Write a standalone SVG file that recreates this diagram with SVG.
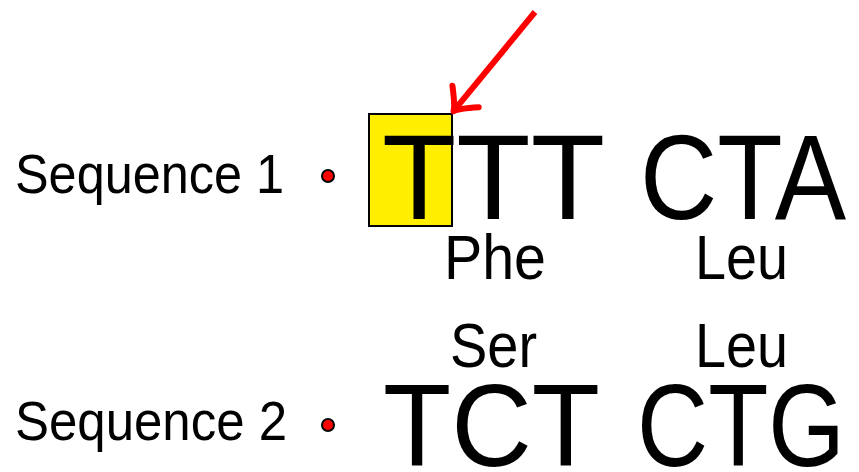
<svg xmlns="http://www.w3.org/2000/svg" width="859" height="472" viewBox="0 0 859 472">
  <style>
    text { font-family: "Liberation Sans", "DejaVu Sans", sans-serif; fill: #000; }
    .label { font-size: 55px; }
    .codon1 { font-size: 120px; }
    .codon2 { font-size: 117px; }
    .amino { font-size: 63px; }
    .dot { fill: #ff0000; stroke: #000; stroke-width: 2; }
  </style>
  <defs>
    <!-- curved "to"-style arrowhead, 1 unit = 1px -->
    <marker id="head" viewBox="-30 -30 60 60" refX="0" refY="0" markerWidth="60" markerHeight="60" orient="auto" markerUnits="userSpaceOnUse">
      <path d="M-19,-17 Q-5,-2 0,0 Q-5,2 -19,17" fill="none" stroke="#ff0000" stroke-width="6" stroke-linecap="round" stroke-linejoin="round"/>
    </marker>
  </defs>

  <!-- highlighted first base -->
  <g id="highlight">
    <rect x="369" y="114" width="83" height="112" fill="#ffee00" stroke="#000" stroke-width="2"/>
  </g>

  <g id="seq1">
    <text class="label" x="15" y="193" textLength="269" lengthAdjust="spacingAndGlyphs">Sequence 1</text>
    <circle class="dot" cx="328" cy="176" r="6"/>
    <text class="codon1" x="382" y="219" textLength="223" lengthAdjust="spacingAndGlyphs">TTT</text>
    <text class="codon1" x="640" y="219" textLength="206" lengthAdjust="spacingAndGlyphs">CTA</text>
    <text class="amino" x="444" y="279" textLength="102" lengthAdjust="spacingAndGlyphs">Phe</text>
    <text class="amino" x="695" y="279" textLength="93" lengthAdjust="spacingAndGlyphs">Leu</text>
  </g>

  <g id="seq2">
    <text class="amino" x="450" y="367" textLength="87" lengthAdjust="spacingAndGlyphs">Ser</text>
    <text class="amino" x="695" y="367" textLength="93" lengthAdjust="spacingAndGlyphs">Leu</text>
    <text class="label" x="15" y="440" textLength="272" lengthAdjust="spacingAndGlyphs">Sequence 2</text>
    <circle class="dot" cx="328" cy="425" r="6"/>
    <text class="codon2" x="383" y="466" textLength="217" lengthAdjust="spacingAndGlyphs">TCT</text>
    <text class="codon2" x="637" y="466" textLength="208" lengthAdjust="spacingAndGlyphs">CTG</text>
  </g>

  <g id="connectors">
    <path d="M535,12 L453.5,111.2" fill="none" stroke="#ff0000" stroke-width="6" marker-end="url(#head)"/>
  </g>
</svg>
